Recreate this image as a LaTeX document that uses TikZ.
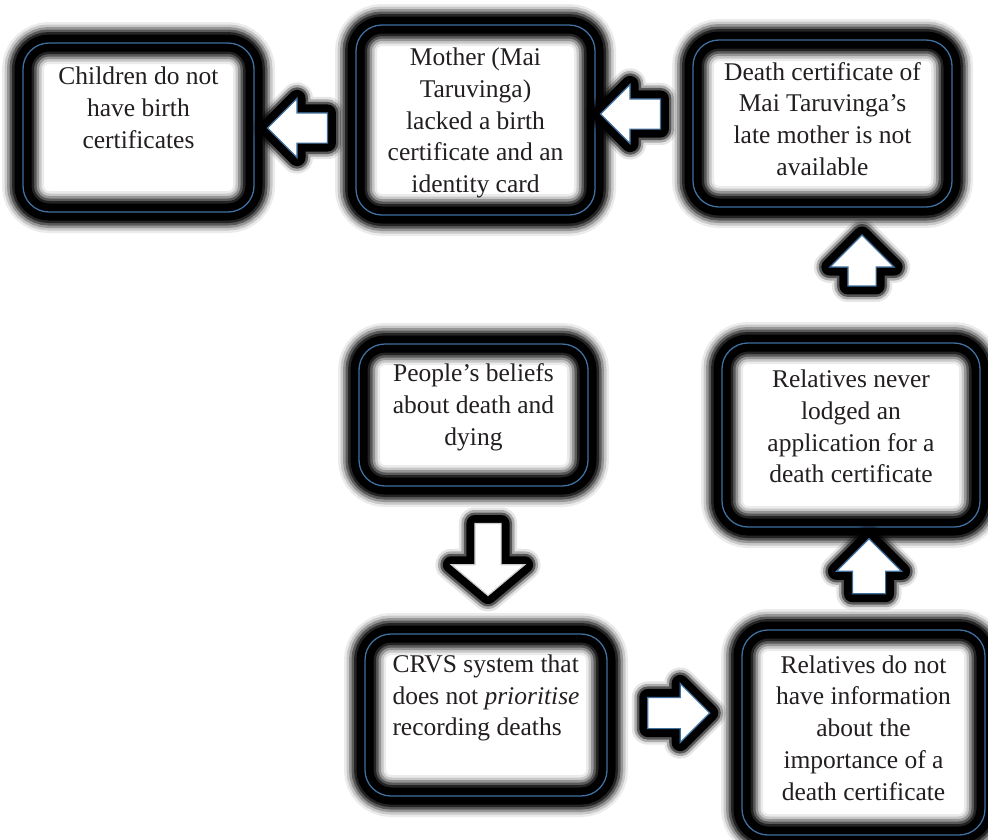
\documentclass[tikz,border=0pt]{standalone}
\usepackage{fontspec}
\setmainfont{Liberation Serif}
\usetikzlibrary{shapes.arrows}
\definecolor{lineblue}{RGB}{62,112,160}
\definecolor{inkgray}{RGB}{35,31,32}

\begin{document}
\begin{tikzpicture}[x=1pt,y=-1pt,
  box/.style={rectangle,rounded corners=26pt,draw=lineblue,line width=1.3pt,inner sep=0pt,
    preaction={fill=white},
    preaction={draw=black,line width=42pt,opacity=.08},
    preaction={draw=black,line width=37pt,opacity=.15},
    preaction={draw=black,line width=32pt,opacity=.25},
    preaction={draw=black,line width=27pt,opacity=.4},
    preaction={draw=black,line width=22pt,opacity=.6},
    preaction={draw=black,line width=17pt}},
  txt/.style={font=\fontsize{25.5}{31.8}\selectfont,text=inkgray,align=center,inner sep=0pt},
  blockarrow/.style={single arrow,draw=lineblue,line width=1.2pt,inner sep=0pt,minimum width=0pt,
    line join=miter,
    preaction={draw=black,line width=32pt,opacity=.1,line join=round},
    preaction={draw=black,line width=27pt,opacity=.25,line join=round},
    preaction={draw=black,line width=22pt,opacity=.5,line join=round},
    preaction={draw=black,line width=17pt,line join=round},
    preaction={fill=white}}]
  \useasboundingbox (0,0) rectangle (988,839);

  % Boxes
  \node[box,minimum width=231pt,minimum height=169pt] (children) at (138.5,127.5) {};
  \node[box,minimum width=239pt,minimum height=190pt] (mother) at (475.5,120) {};
  \node[box,minimum width=259pt,minimum height=167pt] (death) at (822.5,123.5) {};
  \node[box,minimum width=258pt,minimum height=184pt] (never) at (851,435) {};
  \node[box,minimum width=229pt,minimum height=142pt] (beliefs) at (473.5,415) {};
  \node[box,minimum width=242pt,minimum height=162pt] (crvs) at (486,715) {};
  \node[box,minimum width=243pt,minimum height=205pt] (noinfo) at (863.5,732.5) {};

  % Texts
  \node[txt,yshift=19.5pt] (childrentxt) at (children.center) {Children do not\\have birth\\certificates};
  \node[txt,yshift=-3pt] (mothertxt) at (mother.center) {Mother (Mai\\Taruvinga)\\lacked a birth\\certificate and an\\identity card};
  \node[txt,yshift=4.5pt] (deathtxt) at (death.center) {Death certificate of\\Mai Taruvinga’s\\late mother is not\\available};
  \node[txt,yshift=8.5pt] (nevertxt) at (never.center) {Relatives never\\lodged an\\application for a\\death certificate};
  \node[txt,yshift=8pt] (beliefstxt) at (beliefs.center) {People’s beliefs\\about death and\\dying};
  \node[txt,align=left,yshift=17pt] (crvstxt) at (crvs.center) {CRVS system that\\does not \textit{prioritise}\\recording deaths};
  \node[txt,yshift=4.5pt] (noinfotxt) at (noinfo.center) {Relatives do not\\have information\\about the\\importance of a\\death certificate};

  % Arrows
  \node[blockarrow,rotate=180,inner ysep=14.5pt,single arrow head extend=14.5pt,minimum height=60pt] (a1) at (305,128) {};
  \node[blockarrow,rotate=180,inner ysep=14.5pt,single arrow head extend=14.5pt,minimum height=60pt] (a2) at (638,114) {};
  \node[blockarrow,rotate=90,inner ysep=13.5pt,single arrow head extend=18pt,minimum height=51pt] (a3) at (862,267.5) {};
  \node[blockarrow,draw=black!20,rotate=270,inner ysep=12.5pt,single arrow head extend=23.5pt,single arrow tip angle=100,minimum height=72pt] (a4) at (488,554) {};
  \node[blockarrow,inner ysep=15pt,single arrow head extend=14pt,minimum height=62pt] (a5) at (671,713) {};
  \node[blockarrow,rotate=90,inner ysep=16pt,single arrow head extend=16pt,minimum height=55pt] (a6) at (869,574.5) {};
\end{tikzpicture}
\end{document}
